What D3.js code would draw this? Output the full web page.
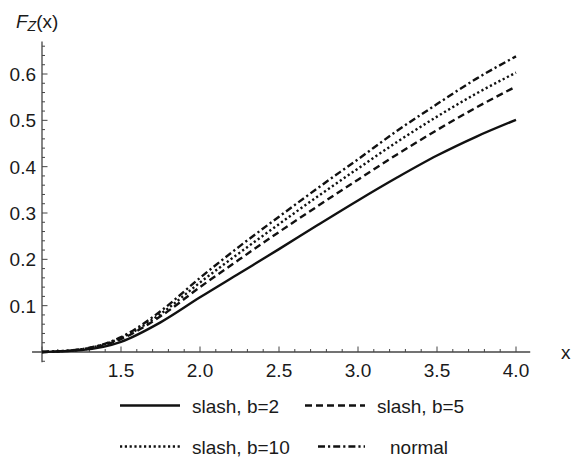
<!DOCTYPE html>
<html><head><meta charset="utf-8">
<script src="https://cdn.jsdelivr.net/npm/d3@7"></script>
<style>body{margin:0;background:#fff}svg{display:block}text{font-family:"Liberation Sans",Arial,sans-serif;fill:#1a1a1a}</style>
</head><body><svg id="c" width="586" height="457"></svg>
<script>
const xs = [1.0, 1.25, 1.5, 1.75, 2.0, 2.25, 2.5, 2.75, 3.0, 3.25, 3.5, 3.75, 4.0];
const slashB2  = [0, 0.004, 0.022, 0.064, 0.118, 0.170, 0.222, 0.275, 0.327, 0.377, 0.424, 0.465, 0.501];
const slashB5  = [0, 0.005, 0.028, 0.077, 0.140, 0.200, 0.259, 0.316, 0.372, 0.427, 0.479, 0.528, 0.573];
const slashB10 = [0, 0.006, 0.030, 0.082, 0.150, 0.214, 0.276, 0.337, 0.396, 0.454, 0.508, 0.558, 0.603];
const normal   = [0, 0.006, 0.032, 0.088, 0.160, 0.228, 0.292, 0.355, 0.416, 0.478, 0.535, 0.590, 0.638];
const xTicks = [1.5, 2.0, 2.5, 3.0, 3.5, 4.0];
const yTicks = [0.1, 0.2, 0.3, 0.4, 0.5, 0.6];
const seriesNames = ["slash, b=2", "slash, b=5", "slash, b=10", "normal"];
const seriesData = [slashB2, slashB5, slashB10, normal];
const dashes = [null, "7,4", "2.2,2.6", "7,3,2.2,3"];

const svg = d3.select("#c");
const x = d3.scaleLinear().domain([1, 4]).range([42, 516]);
const y = d3.scaleLinear().domain([0, 0.6]).range([352, 74]);
const axisColor = "#444";
const FS = 19;

svg.append("line").attr("x1", x(0.937)).attr("x2", x(4.09)).attr("y1", y(0)).attr("y2", y(0))
  .attr("stroke", axisColor).attr("stroke-width", 1.3);
svg.append("line").attr("x1", x(1)).attr("x2", x(1)).attr("y1", y(-0.022)).attr("y2", y(0.67))
  .attr("stroke", axisColor).attr("stroke-width", 1.3);

const xMinor = d3.range(1.1, 4.05, 0.1).filter(v => Math.abs(v * 2 - Math.round(v * 2)) > 1e-6);
const xMajor = d3.range(1.0, 4.05, 0.5);
xMinor.forEach(v => svg.append("line").attr("x1", x(v)).attr("x2", x(v)).attr("y1", y(0)).attr("y2", y(0) - 3)
  .attr("stroke", axisColor).attr("stroke-width", 1));
xMajor.forEach(v => svg.append("line").attr("x1", x(v)).attr("x2", x(v)).attr("y1", y(0)).attr("y2", y(0) - 5.5)
  .attr("stroke", axisColor).attr("stroke-width", 1));
svg.selectAll(".xt").data(xTicks).enter().append("text")
  .attr("x", d => x(d)).attr("y", y(0) + 25).attr("text-anchor", "middle")
  .attr("font-size", FS).text(d => d.toFixed(1));

const yAll = d3.range(-0.02, 0.665, 0.02);
yAll.forEach(v => {
  const major = Math.abs(v * 10 - Math.round(v * 10)) < 1e-6;
  svg.append("line").attr("x1", x(1)).attr("x2", x(1) + (major ? 5.5 : 3)).attr("y1", y(v)).attr("y2", y(v))
    .attr("stroke", axisColor).attr("stroke-width", 1);
});
svg.selectAll(".yt").data(yTicks).enter().append("text")
  .attr("x", 36).attr("y", d => y(d) + 7).attr("text-anchor", "end")
  .attr("font-size", FS).text(d => d.toFixed(1));

svg.append("text").attr("x", 561).attr("y", 359).attr("font-size", FS).text("x");
const yl = svg.append("text").attr("x", 16).attr("y", 28).attr("font-size", FS);
yl.append("tspan").attr("font-style", "italic").text("F");
yl.append("tspan").attr("font-style", "italic").attr("font-size", 14).attr("dy", 3).text("Z");
yl.append("tspan").attr("dy", -3).text("(x)");

const line = d3.line().x((d, i) => x(xs[i])).y(d => y(d)).curve(d3.curveMonotoneX);
seriesData.forEach((s, k) => {
  const p = svg.append("path").datum(s).attr("d", line).attr("fill", "none")
    .attr("stroke", "#111").attr("stroke-width", 2.4);
  if (dashes[k]) p.attr("stroke-dasharray", dashes[k]);
});

const legPos = [[120, 405.5], [305, 405.5], [120, 446.5], [318, 446.5]];
const legEnd = [180, 365, 180, 365];
seriesNames.forEach((n, k) => {
  const [lx, ly] = legPos[k];
  const l = svg.append("line").attr("x1", lx).attr("x2", legEnd[k]).attr("y1", ly).attr("y2", ly)
    .attr("stroke", "#111").attr("stroke-width", 2.4);
  if (dashes[k]) l.attr("stroke-dasharray", dashes[k]);
  svg.append("text").attr("x", legEnd[k] + (k === 3 ? 25 : 12)).attr("y", ly + 7).attr("font-size", FS).text(n);
});
</script></body></html>
